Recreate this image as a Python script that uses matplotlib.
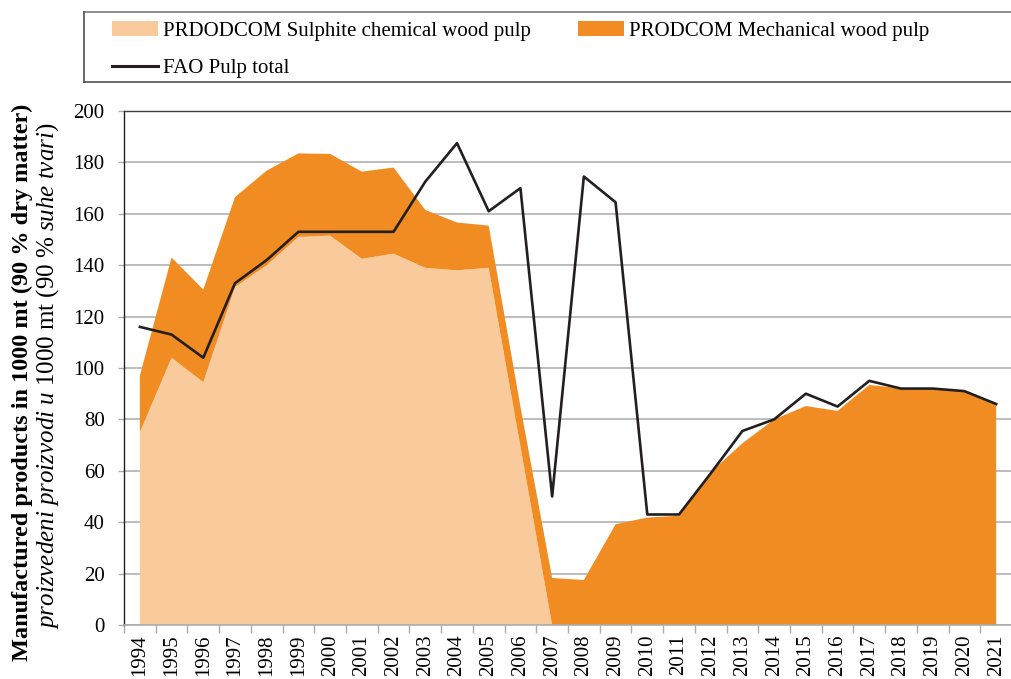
import matplotlib
matplotlib.use("Agg")
import matplotlib.pyplot as plt
from matplotlib.patches import Patch
from matplotlib.lines import Line2D

plt.rcParams['font.family'] = ['Liberation Serif', 'DejaVu Serif']
plt.rcParams['mathtext.fontset'] = 'custom'
plt.rcParams['mathtext.rm'] = 'Liberation Serif'
plt.rcParams['mathtext.it'] = 'Liberation Serif:italic'
plt.rcParams['mathtext.bf'] = 'Liberation Serif:bold'

years = [str(y) for y in range(1994, 2022)]

# PRODCOM sulphite chemical wood pulp (1000 mt)
sulphite = [75, 104, 94.5, 131.5, 140, 151, 151.5, 142.5, 144.5, 139,
            138, 139, 69.5, 0, 0, 0, 0, 0, 0, 0,
            0, 0, 0, 0, 0, 0, 0, 0]
# PRODCOM mechanical wood pulp (1000 mt)
mechanical = [22, 39, 36, 35, 36.8, 32.5, 31.8, 33.9, 33.5, 22.5,
              18.6, 16.4, 15.5, 18.3, 17.5, 39.2, 41.8, 42.5, 59.5, 70.7,
              80, 85.2, 83.3, 93.4, 92.1, 92, 90.8, 85.9]
# FAO pulp total
fao = [116, 113, 104, 133, 142, 153, 153, 153, 153, 172.5,
       187.5, 161, 170, 50, 174.5, 164.5, 43, 43, 59, 75.5,
       80, 90, 85, 95, 92, 92, 91, 86]

light = '#F9CB9C'
orange = '#F18C22'
black = '#231F20'
grid = '#ABABAB'

W, H = 1012, 679
fig = plt.figure(figsize=(W / 100, H / 100), dpi=100)
ax = fig.add_axes([124 / W, 54 / H, (W - 124) / W, 514 / H])

x = list(range(len(years)))
ax.stackplot(x, sulphite, mechanical, colors=[light, orange], lw=0, zorder=2)
ax.plot(x, fao, color=black, lw=1.9, zorder=3)

ax.set_ylim(0, 200)
ax.set_xlim(-0.5, -0.5 + (W - 124) / 31.96)
ax.set_yticks(range(0, 201, 20))
ax.yaxis.grid(True, color=grid, lw=1.1)
ax.set_axisbelow(True)

ax.set_xticks(x)
ax.set_xticklabels(years, rotation=90)
ax.set_xticks([i - 0.5 for i in range(len(years) + 1)], minor=True)
ax.tick_params(axis='x', which='major', length=0, pad=7, labelsize=15)
ax.tick_params(axis='x', which='minor', length=6, color=grid, width=1)
ax.tick_params(axis='y', length=4, color=grid, width=1, pad=10, labelsize=15)

ax.spines['right'].set_visible(False)
ax.spines['left'].set_color(black)
ax.spines['top'].set_color('#404040')
ax.spines['bottom'].set_color(grid)
ax.spines['left'].set_linewidth(1.0)
ax.spines['top'].set_linewidth(1.0)
ax.spines['bottom'].set_linewidth(1.2)

# y label, two lines
fig.text(22 / W, 1 - 382 / H, 'Manufactured products in 1000 mt (90 % dry matter)',
         rotation=90, ha='center', va='center', fontsize=17.5, fontweight='bold')
fig.text(48 / W, 1 - 376 / H,
         r'$\mathit{proizvedeni\ proizvodi\ u\ 1000}$ mt $\mathit{(90\ \%\ suhe\ tvari)}$',
         rotation=90, ha='center', va='center', fontsize=18)

# legend
handles = [Patch(facecolor=light, edgecolor='none'),
           Line2D([0], [0], color=black, lw=2.2),
           Patch(facecolor=orange, edgecolor='none')]
labels = ['PRDODCOM Sulphite chemical wood pulp', 'FAO Pulp total',
          'PRODCOM Mechanical wood pulp']
fig.legend(handles, labels, loc='upper left', bbox_to_anchor=(112 / W, 1 - 21 / H),
           ncol=2, frameon=False, fontsize=15, borderpad=0, borderaxespad=0,
           handlelength=2.2, handletextpad=0.24, columnspacing=2.26,
           labelspacing=0.85)

# legend box, open on the right (cut by the figure edge)
bx0, bx1 = 84 / W, 1.0
by0, by1 = 1 - 82 / H, 1 - 12 / H
fig.add_artist(Line2D([bx0, bx1], [by1, by1], color='#7a7a7a', lw=1.2, transform=fig.transFigure))
fig.add_artist(Line2D([bx0, bx0], [by0, by1], color='#505050', lw=1.2, transform=fig.transFigure))
fig.add_artist(Line2D([bx0, bx1], [by0, by0], color='#505050', lw=1.2, transform=fig.transFigure))

fig.savefig('out.png', dpi=100)
